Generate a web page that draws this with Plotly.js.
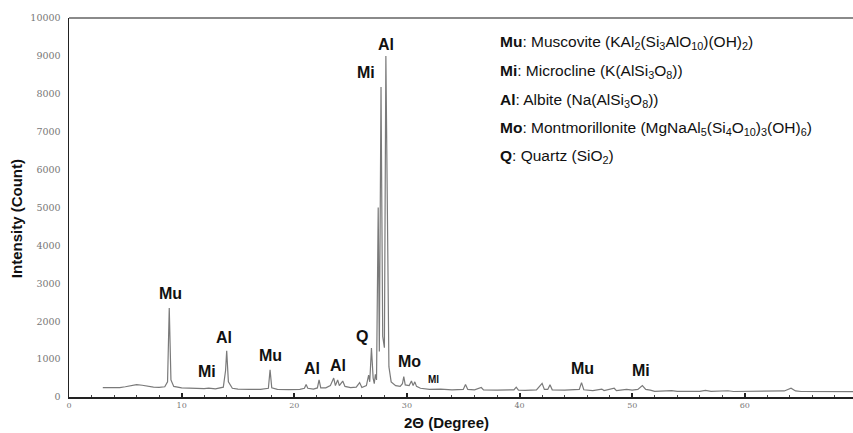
<!DOCTYPE html>
<html>
<head>
<meta charset="utf-8">
<script src="https://cdn.plot.ly/plotly-3.0.1.min.js"></script>
<style>
  html, body { margin: 0; padding: 0; background: #fff; }
  #chart { width: 853px; height: 433px; }
</style>
</head>
<body>
<div id="chart"></div>
<script>
// 2θ (degree) values of the digitised XRD pattern
const twoTheta = [
  3.0, 3.5, 4.0, 4.5, 5.0, 5.5, 6.0, 6.5, 7.0, 7.5, 8.0, 8.5, 8.75, 8.9, 9.05, 9.3,
  10.0, 11.0, 12.0, 12.4, 13.0, 13.7, 13.9, 14.0, 14.15, 14.5, 15.0, 16.0, 17.0, 17.7, 17.85, 18.0,
  18.5, 19.5, 20.5, 20.9, 21.05, 21.2, 21.7, 22.05, 22.2, 22.35, 22.8, 23.2, 23.5, 23.65, 23.85, 24.0,
  24.3, 24.5, 25.0, 25.5, 25.8, 26.0, 26.4, 26.6, 26.7, 26.85, 27.0, 27.1, 27.2, 27.3, 27.45, 27.55,
  27.7, 27.85, 28.0, 28.13, 28.27, 28.4, 28.6, 29.0, 29.4, 29.6, 29.72, 29.85, 30.2, 30.4, 30.55, 30.7,
  30.85, 31.2, 32.0, 33.0, 34.0, 35.0, 35.2, 35.4, 36.0, 36.6, 36.8, 37.4, 38.0, 39.5, 39.7, 39.9,
  40.5, 41.5, 42.0, 42.2, 42.5, 42.7, 42.9, 44.0, 45.3, 45.5, 45.7, 46.5, 47.3, 47.5, 48.4, 48.6,
  49.5, 50.0, 50.5, 50.9, 51.2, 51.6, 52.0, 53.5, 54.0, 56.0, 56.5, 57.0, 58.5, 59.0, 60.0, 62.0,
  63.5, 64.1, 64.5, 65.0, 67.0, 69.6
];
// intensity (count) values
const intensity = [
  250, 245, 255, 250, 270, 300, 325, 310, 280, 260, 255, 270, 400, 2350, 450, 280,
  240, 225, 220, 235, 215, 260, 700, 1220, 400, 230, 210, 200, 200, 230, 715, 240,
  200, 195, 200, 230, 330, 230, 210, 240, 450, 240, 240, 300, 500, 300, 450, 300,
  420, 280, 250, 260, 380, 250, 300, 580, 400, 1290, 500, 350, 600, 450, 5000, 1200,
  8180, 1600, 1300, 9000, 5150, 800, 400, 300, 280, 350, 540, 320, 300, 420, 300, 400,
  280, 230, 200, 210, 190, 200, 330, 200, 190, 250, 190, 180, 180, 190, 260, 180,
  175, 190, 360, 200, 200, 320, 190, 180, 200, 380, 190, 170, 210, 170, 230, 170,
  200, 180, 200, 300, 200, 180, 150, 170, 150, 150, 175, 150, 165, 145, 150, 145,
  160, 230, 160, 145, 140, 140
];
// peak labels
const peakLabels = ["Mu", "Mi", "Al", "Mu", "Al", "Al", "Q", "Mi", "Al", "Mo", "Ml", "Mu", "Mi"];
// key lines
const keyPhase = ["Mu", "Mi", "Al", "Mo", "Q"];
const keyText = [
  "Muscovite (KAl<sub>2</sub>(Si<sub>3</sub>AlO<sub>10</sub>)(OH)<sub>2</sub>)",
  "Microcline (K(AlSi<sub>3</sub>O<sub>8</sub>))",
  "Albite (Na(AlSi<sub>3</sub>O<sub>8</sub>))",
  "Montmorillonite (MgNaAl<sub>5</sub>(Si<sub>4</sub>O<sub>10</sub>)<sub>3</sub>(OH)<sub>6</sub>)",
  "Quartz (SiO<sub>2</sub>)"
];
const xTicks = [0, 10, 20, 30, 40, 50, 60];
const yTicks = [0, 1000, 2000, 3000, 4000, 5000, 6000, 7000, 8000, 9000, 10000];

// layout-only positions of labels (data coordinates)
const peakPos = [
  [9.01, 2744], [12.22, 668], [13.76, 1557], [17.93, 1082], [21.6, 757], [23.9, 844],
  [25.98, 1591], [26.34, 8557], [28.14, 9288], [30.27, 931], [32.4, 475], [45.57, 757], [50.75, 694]
];
const keyY = [9359, 8583, 7836, 7090, 6340];

const annotations = [];
peakLabels.forEach((t, i) => {
  const small = t === "Ml";
  annotations.push({
    x: peakPos[i][0], y: peakPos[i][1], xref: "x", yref: "y",
    text: "<b>" + t + "</b>", showarrow: false, xanchor: "center", yanchor: "middle",
    font: { family: "Liberation Sans, Arial, sans-serif", size: small ? 10 : 16, color: "#111" }
  });
});
keyPhase.forEach((p, i) => {
  annotations.push({
    x: 38.08, y: keyY[i], xref: "x", yref: "y",
    text: "<b>" + p + "</b>: " + keyText[i], showarrow: false, xanchor: "left", yanchor: "middle",
    font: { family: "Liberation Sans, Arial, sans-serif", size: 15.5, color: "#111" }
  });
});
annotations.push({
  x: -0.066, y: 0.47, xref: "paper", yref: "paper", textangle: -90,
  text: "<b>Intensity (Count)</b>", showarrow: false, xanchor: "center", yanchor: "middle",
  font: { family: "Liberation Sans, Arial, sans-serif", size: 15, color: "#111" }
});
annotations.push({
  x: 0.482, y: -0.068, xref: "paper", yref: "paper",
  text: "<b>2Θ (Degree)</b>", showarrow: false, xanchor: "center", yanchor: "middle",
  font: { family: "Liberation Sans, Arial, sans-serif", size: 15, color: "#111" }
});

const trace = {
  x: twoTheta, y: intensity, type: "scatter", mode: "lines",
  line: { color: "#7a7a7a", width: 1.2 }, hoverinfo: "skip"
};

const layout = {
  width: 853, height: 433, autosize: false,
  margin: { l: 69, r: 0, t: 18, b: 36 },
  paper_bgcolor: "#fff", plot_bgcolor: "#fff",
  showlegend: false,
  xaxis: {
    range: [0, 69.6], tickvals: xTicks, ticktext: xTicks.map(String),
    showgrid: false, zeroline: false, showline: true, linecolor: "#222", linewidth: 1.5,
    ticks: "inside", ticklen: 4, tickwidth: 2, tickcolor: "#222",
    minor: { dtick: 2, ticks: "inside", ticklen: 2, tickwidth: 1, tickcolor: "#444" },
    tickfont: { family: "DejaVu Serif, serif", size: 8, color: "#777" }
  },
  yaxis: {
    range: [0, 10000], tickvals: yTicks, ticktext: yTicks.map(String),
    showgrid: false, zeroline: false, showline: true, linecolor: "#222", linewidth: 1.5,
    ticks: "", ticklabelstandoff: 5,
    tickfont: { family: "DejaVu Serif, serif", size: 9.5, color: "#777" }
  },
  shapes: [
    { type: "line", xref: "paper", yref: "paper", x0: 0, x1: 1, y0: 1, y1: 1,
      line: { color: "#8a8a8a", width: 2 } }
  ],
  annotations: annotations
};

Plotly.newPlot("chart", [trace], layout, { staticPlot: true, displayModeBar: false });
</script>
</body>
</html>
